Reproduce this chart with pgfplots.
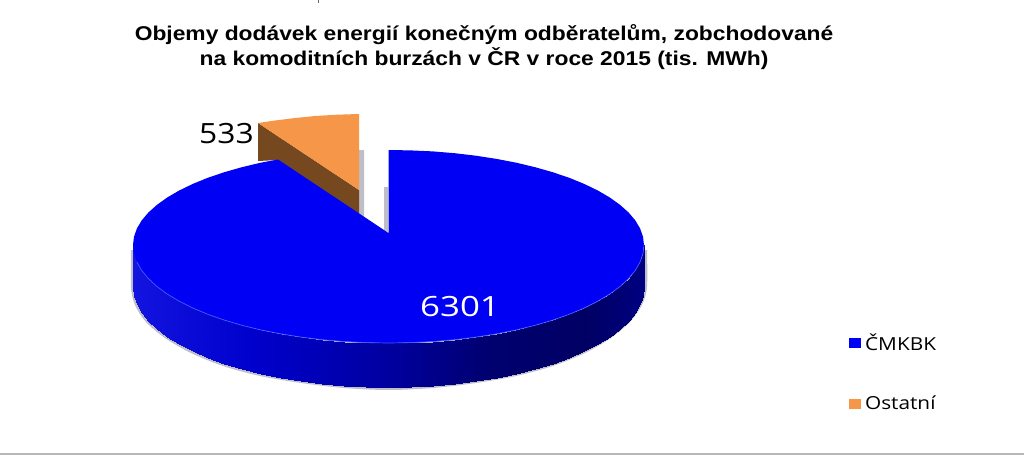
\documentclass[border=0pt]{standalone}
\usepackage{pgfplots}
\pgfplotsset{compat=1.18}
\usepackage{fontspec}
\setmainfont{Liberation Sans}
\newfontfamily\lab{Open Sans}
\definecolor{pieblue}{RGB}{0,0,245}
\definecolor{pieorange}{RGB}{246,150,72}
\definecolor{piebrown}{RGB}{118,72,32}
\definecolor{seam}{RGB}{70,90,255}
\definecolor{shade}{RGB}{190,190,200}
\begin{document}
\begin{tikzpicture}
\begin{axis}[
  scale only axis, width=1024bp, height=455bp,
  xmin=0, xmax=1024, ymin=0, ymax=455, y dir=reverse,
  axis lines=none, clip=true,
  title={\scalebox{1.145}[1]{\setlength{\tabcolsep}{0pt}\begin{tabular}{c}Objemy dodávek energií konečným odběratelům, zobchodované\\na komoditních burzách v ČR v roce 2015 (tis. MWh)\end{tabular}}},
  title style={at={(0.4727,0.8813)},anchor=center,inner sep=0pt,font=\fontsize{20}{24}\selectfont\bfseries},
  colormap={side}{rgb255(0cm)=(20,20,224) rgb255(1.2cm)=(0,0,204) rgb255(2.54cm)=(0,0,160) rgb255(3.54cm)=(0,0,112) rgb255(4.54cm)=(0,0,100) rgb255(5.11cm)=(0,0,128)},
  legend style={at={(0.8285,0.2665)},anchor=north west,draw=none,fill=none,row sep=44bp,
    font=\lab\fontsize{18}{20}\selectfont,inner sep=0pt,nodes={inner xsep=4.5bp,inner ysep=0pt}},
  legend cell align=left,
  legend image code/.code={\fill[#1] (0bp,-5bp) rectangle (12bp,5bp);},
]
% frame line and stray mark
\addplot[forget plot,draw=black!28,line width=1.5bp] coordinates {(0,454) (1024,454)};
\addplot[forget plot,draw=black!60,line width=0.6bp] coordinates {(318,0) (318,3)};
% soft shadow under the pie and behind the exploded edges
\addplot[forget plot,fill=shade,draw=none,smooth] coordinates {
 (131,250) (131,287) (135,305) (146,322) (165,338) (191,353) (223,366) (260,376) (301,383) (344,388) (388.5,390)
 (433,388) (476,383) (516,376) (553,366) (585,353) (611,338) (630,322) (642,305) (647,287) (647,250)};
\addplot[forget plot,fill=shade,draw=none] coordinates {(359,150) (364,150) (364,222) (359,218)};
\addplot[forget plot,fill=shade,draw=none] coordinates {(384,187) (388,187) (388,232) (384,230)};
\addplot[forget plot,fill=shade,draw=none] coordinates {(254,178) (262,176) (262,184) (254,184)};
% orange slice: side and top
\addplot[forget plot,fill=piebrown,draw=none] coordinates {(258,123) (359,190) (359,214) (330,195) (278,160) (258,161)};
\addplot[forget plot,fill=pieorange,draw=none] coordinates {(258,123) (275,120.5) (295,118) (315,116) (337,114.7) (359,114) (359,190)};
% side wall of the blue slice
\addplot[forget plot,surf,shader=interp,mesh/cols=2,point meta={(x-133)/100},point meta min=0,point meta max=5.11] coordinates {
 (133,245) (133,287)
 (134,253.5) (134,295.7)
 (136.9,262) (136.9,304.4)
 (141.7,270.4) (141.7,312.9)
 (148.4,278.5) (148.4,321.2)
 (156.9,286.4) (156.9,329.3)
 (167.2,294) (167.2,337)
 (179.2,301.2) (179.2,344.4)
 (192.8,308) (192.8,351.3)
 (207.8,314.3) (207.8,357.7)
 (224.3,320.1) (224.3,363.6)
 (241.9,325.3) (241.9,368.9)
 (260.7,329.9) (260.7,373.6)
 (280.5,333.8) (280.5,377.6)
 (301.1,337.1) (301.1,381)
 (322.4,339.7) (322.4,383.6)
 (344.1,341.5) (344.1,385.5)
 (366.2,342.6) (366.2,386.6)
 (388.5,343) (388.5,387)
 (410.8,342.6) (410.8,386.6)
 (432.9,341.5) (432.9,385.5)
 (454.6,339.7) (454.6,383.6)
 (475.9,337.1) (475.9,381)
 (496.5,333.8) (496.5,377.6)
 (516.3,329.9) (516.3,373.6)
 (535.1,325.3) (535.1,368.9)
 (552.7,320.1) (552.7,363.6)
 (569.2,314.3) (569.2,357.7)
 (584.2,308) (584.2,351.3)
 (597.8,301.2) (597.8,344.4)
 (609.8,294) (609.8,337)
 (620.1,286.4) (620.1,329.3)
 (628.6,278.5) (628.6,321.2)
 (635.3,270.4) (635.3,312.9)
 (640.1,262) (640.1,304.4)
 (643,253.5) (643,295.7)
 (644,245) (644,287)
};
% blue slice: top
\addplot[forget plot,fill=pieblue,draw=none] coordinates {
 (388.5,150) (410.8,150.4) (432.9,151.4) (454.6,153.2) (475.9,155.7) (496.5,158.9) (516.3,162.7) (535.1,167.2) (552.7,172.2) (569.2,177.8) (584.2,183.9) (597.8,190.5) (609.8,197.5) (620.1,204.9) (628.6,212.5) (635.3,220.4) (640.1,228.5) (643,236.7) (644,245)
 (643,253.5) (640.1,262) (635.3,270.4) (628.6,278.5) (620.1,286.4) (609.8,294) (597.8,301.2) (584.2,308) (569.2,314.3) (552.7,320.1) (535.1,325.3) (516.3,329.9) (496.5,333.8) (475.9,337.1) (454.6,339.7) (432.9,341.5) (410.8,342.6) (388.5,343)
 (366.2,342.6) (344.1,341.5) (322.4,339.7) (301.1,337.1) (280.5,333.8) (260.7,329.9) (241.9,325.3) (224.3,320.1) (207.8,314.3) (192.8,308) (179.2,301.2) (167.2,294) (156.9,286.4) (148.4,278.5) (141.7,270.4) (136.9,262) (134,253.5) (133,245)
 (134,236.7) (136.9,228.5) (141.7,220.4) (148.4,212.5) (156.9,204.9) (167.2,197.5) (179.2,190.5) (192.8,183.9) (207.8,177.8) (224.3,172.2) (241.9,167.2) (260.7,162.7) (278,159.5) (388.5,233)};
\addplot[forget plot,draw=seam,line width=0.7bp] coordinates {
 (644,245) (643,253.5) (640.1,262) (635.3,270.4) (628.6,278.5) (620.1,286.4) (609.8,294) (597.8,301.2) (584.2,308) (569.2,314.3) (552.7,320.1) (535.1,325.3) (516.3,329.9) (496.5,333.8) (475.9,337.1) (454.6,339.7) (432.9,341.5) (410.8,342.6) (388.5,343)
 (366.2,342.6) (344.1,341.5) (322.4,339.7) (301.1,337.1) (280.5,333.8) (260.7,329.9) (241.9,325.3) (224.3,320.1) (207.8,314.3) (192.8,308) (179.2,301.2) (167.2,294) (156.9,286.4) (148.4,278.5) (141.7,270.4) (136.9,262)};
\addlegendimage{fill=pieblue,draw=none}
\addlegendentry{\scalebox{1.16}[1]{ČMKBK}}
\addlegendimage{fill=pieorange,draw=none}
\addlegendentry{\scalebox{1.16}[1]{Ostatní}}
\node[font=\lab\fontsize{28}{28}\selectfont,text=black,inner sep=0pt] at (axis cs:226.5,134) {\scalebox{1.14}[1]{533}};
\node[font=\lab\fontsize{28}{28}\selectfont,text=white,inner sep=0pt] at (axis cs:460,307) {\scalebox{1.25}[1]{6301}};
\end{axis}
\end{tikzpicture}
\end{document}
